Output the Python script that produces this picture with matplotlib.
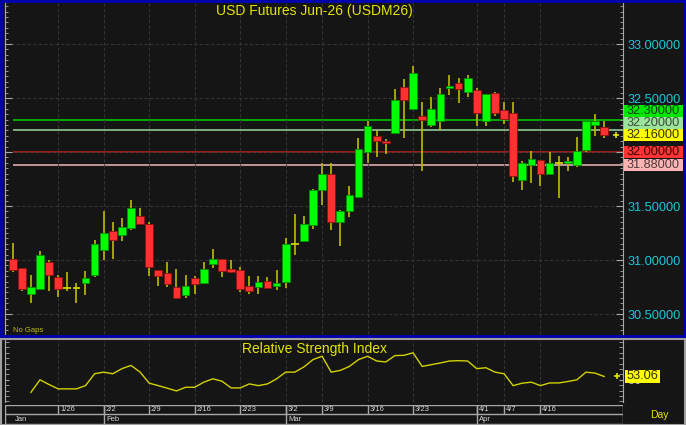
import matplotlib.pyplot as plt
from matplotlib.patches import Rectangle
from matplotlib.ticker import MultipleLocator

plt.rcParams['font.family'] = ['Liberation Sans', 'DejaVu Sans']

# daily OHLC, Jan 19 .. Apr 22
opens = [31.01, 30.93, 30.69, 30.73, 30.98, 30.84, 30.74, 30.74, 30.79, 30.86,
         31.09, 31.27, 31.23, 31.30, 31.41, 31.33, 30.91, 30.88, 30.75, 30.68,
         30.83, 30.79, 30.96, 31.01, 30.92, 30.91, 30.76, 30.75, 30.81, 30.76,
         30.80, 31.15, 31.18, 31.32, 31.65, 31.80, 31.35, 31.45, 31.58, 32.00,
         32.15, 32.10, 32.18, 32.60, 32.40, 32.33, 32.25, 32.29, 32.59, 32.64,
         32.56, 32.57, 32.29, 32.55, 32.39, 32.36, 31.74, 31.88, 31.93, 31.80,
         31.90, 31.90, 31.88, 32.02, 32.25, 32.23]
highs = [31.16, 30.93, 30.86, 31.08, 31.00, 30.86, 30.89, 30.79, 30.90, 31.19,
         31.45, 31.35, 31.39, 31.56, 31.48, 31.35, 30.91, 30.98, 30.92, 30.86,
         30.85, 30.98, 31.10, 31.01, 31.00, 30.94, 30.85, 30.85, 30.84, 30.91,
         31.20, 31.43, 31.41, 31.66, 31.90, 31.90, 31.46, 31.69, 32.13, 32.29,
         32.20, 32.12, 32.58, 32.68, 32.80, 32.46, 32.51, 32.59, 32.71, 32.69,
         32.71, 32.59, 32.54, 32.56, 32.46, 32.46, 31.92, 32.01, 31.93, 32.00,
         31.96, 31.95, 32.14, 32.29, 32.35, 32.29]
lows = [30.89, 30.71, 30.60, 30.73, 30.71, 30.66, 30.71, 30.60, 30.68, 30.84,
        31.00, 31.01, 31.18, 31.28, 31.33, 30.85, 30.76, 30.75, 30.64, 30.65,
        30.69, 30.78, 30.93, 30.84, 30.88, 30.70, 30.69, 30.69, 30.74, 30.72,
        30.74, 31.05, 31.18, 31.29, 31.51, 31.28, 31.13, 31.40, 31.58, 31.90,
        31.95, 31.98, 32.18, 32.13, 32.39, 31.82, 32.23, 32.20, 32.53, 32.45,
        32.51, 32.24, 32.24, 32.33, 32.26, 31.72, 31.65, 31.71, 31.69, 31.80,
        31.57, 31.82, 31.86, 32.00, 32.15, 32.13]
closes = [30.91, 30.73, 30.75, 31.05, 30.86, 30.73, 30.74, 30.74, 30.83, 31.15,
          31.25, 31.19, 31.31, 31.48, 31.33, 30.94, 30.85, 30.78, 30.65, 30.76,
          30.78, 30.92, 31.01, 30.90, 30.89, 30.73, 30.71, 30.80, 30.74, 30.79,
          31.15, 31.15, 31.33, 31.65, 31.80, 31.35, 31.45, 31.60, 32.03, 32.24,
          32.10, 32.08, 32.48, 32.48, 32.73, 32.30, 32.40, 32.54, 32.61, 32.58,
          32.69, 32.36, 32.54, 32.36, 32.31, 31.78, 31.90, 31.94, 31.80, 31.90,
          31.90, 31.91, 32.01, 32.29, 32.29, 32.16]

# RSI starts at the 3rd bar
rsi_first = 2
rsi = [38.4, 50.0, 45.6, 41.6, 41.6, 41.6, 44.6, 55.6, 57.1, 55.6,
       60.3, 63.3, 57.1, 46.9, 44.6, 42.2, 39.7, 43.1, 43.1, 47.8,
       50.9, 48.7, 42.5, 42.5, 46.2, 44.6, 46.2, 50.9, 57.1, 57.1,
       61.9, 68.7, 71.8, 57.1, 58.7, 62.4, 68.7, 71.8, 67.4, 66.5,
       72.4, 72.7, 75.0, 62.4, 64.0, 65.6, 67.4, 67.7, 67.4, 60.3,
       61.2, 57.1, 55.6, 44.6, 46.9, 47.8, 44.6, 47.1, 47.1, 48.4,
       50.0, 57.1, 56.2, 53.06]

levels = [32.30, 32.20, 32.16, 32.00, 31.88]
level_lines = ['#00d400', '#9cd89c', '#c81e1e', '#f0b8b8']
level_colors = ['#00e800', '#9ce49c', '#ffff00', '#ff3434', '#ffb4b4']
level_text = ['#0a3a0a', '#3c4a3c', '#303000', '#3a0000', '#4a3a3a']

day_idx = [5, 10, 15, 20, 25, 30, 34, 39, 44, 51, 54, 58]
day_labels = ['1/26', '2/2', '2/9', '2/16', '2/23', '3/2', '3/9', '3/16',
              '3/23', '4/1', '4/7', '4/16']
month_idx = [0, 10, 30, 51]
month_labels = ['Jan', 'Feb', 'Mar', 'Apr']

W, H = 686, 425
BG = '#151515'
GRID = '#343434'
AXC = '#a8a8a8'
YEL = '#e4e400'


def box(x0, y0, x1, y1):
    return [x0 / W, 1 - y1 / H, (x1 - x0) / W, (y1 - y0) / H]


fig = plt.figure(figsize=(6.86, 4.25), dpi=100, facecolor=BG)
xl = (-0.846, 67.07)

# ---- price panel
ax = fig.add_axes(box(5, 3, 623, 334), facecolor=BG)
ax.set_xlim(*xl)
ax.set_ylim(30.315, 33.38)
ax.set_xticks(day_idx)
ax.set_yticks([30.5, 31.0, 31.5, 32.0, 32.5, 33.0])
ax.yaxis.set_minor_locator(MultipleLocator(0.05))
ax.set_yticklabels(['%.5f' % v for v in ax.get_yticks()])
ax.grid(True, color=GRID, lw=0.8, ls=(0, (3, 2)))
ax.tick_params(axis='x', bottom=False, labelbottom=False)
ax.tick_params(axis='y', which='both', left=True, right=True, labelleft=False,
               labelright=True, direction='in', color=AXC, labelcolor='#18c8dc',
               labelsize=9.2, pad=3)
ax.tick_params(axis='y', which='major', length=5)
ax.tick_params(axis='y', which='minor', length=2.5)
for s in ['top', 'bottom']:
    ax.spines[s].set_visible(False)
for s in ['left', 'right']:
    ax.spines[s].set_color(AXC)

for i, (y, c) in enumerate(zip([32.30, 32.20, 32.00, 31.88], level_lines)):
    ax.hlines(y, 0, xl[1], color=c, lw=1.1, zorder=1.5)

bw = 0.85
for i in range(len(opens)):
    o, h, l, c = opens[i], highs[i], lows[i], closes[i]
    ax.vlines(i, l, h, color='#bcbc00', lw=1.2, zorder=2)
    if o == c:
        ax.hlines(o, i - bw / 2, i + bw / 2, color='#d0d000', lw=1.3, zorder=3)
        continue
    up = c > o
    lo = min(o, c)
    ht = max(abs(c - o), 0.02)
    ax.bar(i, ht, bottom=lo, width=bw, color='#00ff00' if up else '#ff3030',
           edgecolor='#009000' if up else '#901010', lw=0.6, zorder=3)

ax.plot(len(opens) + 0.3, closes[-1], marker='+', color=YEL, ms=5,
        mew=1.2, clip_on=False, zorder=5)

# stacked value boxes on the right axis
gap = 0.111
order = sorted(range(len(levels)), key=lambda k: levels[k])
pos = {}
prev = None
for k in order:
    y = levels[k]
    if prev is not None and y < prev + gap:
        y = prev + gap
    pos[k] = y
    prev = y
tr = ax.get_yaxis_transform()
for k in range(len(levels)):
    y = pos[k]
    ax.add_patch(Rectangle((1.0016, y - gap / 2), 0.0955, gap, transform=tr,
                           facecolor=level_colors[k], edgecolor='none',
                           clip_on=False, zorder=6))
    ax.text(1.0055, y, '%.5f' % levels[k], transform=tr, ha='left',
            va='center', fontsize=9.2, color=level_text[k], zorder=7,
            clip_on=False)

ax.text(0.5, 0.976, 'USD Futures Jun-26 (USDM26)', transform=ax.transAxes,
        ha='center', va='center', color=YEL, fontsize=10)
ax.text(0.013, 0.011, 'No Gaps', transform=ax.transAxes, ha='left',
        va='center', color='#c0c000', fontsize=5.5)

# ---- RSI panel
ax2 = fig.add_axes(box(5, 340, 623, 402), facecolor=BG)
ax2.set_xlim(*xl)
ax2.set_ylim(29.45, 86.85)
ax2.plot(range(rsi_first, rsi_first + len(rsi)), rsi, color='#d2d200', lw=1)
ax2.set_xticks(day_idx)
ax2.set_yticks([50])
ax2.set_yticklabels(['50'])
ax2.yaxis.set_minor_locator(MultipleLocator(5))
ax2.grid(True, axis='x', color=GRID, lw=0.8, ls=(0, (3, 2)))
ax2.tick_params(axis='x', bottom=False, labelbottom=False)
ax2.tick_params(axis='y', which='both', left=True, right=True, labelleft=False,
                labelright=True, direction='in', color=AXC, labelcolor='#b8b8b8',
                labelsize=9.2, pad=3, length=3)
for s in ['top', 'bottom']:
    ax2.spines[s].set_visible(False)
for s in ['left', 'right']:
    ax2.spines[s].set_color(AXC)
ax2.plot(len(opens) + 0.4, rsi[-1], marker='+', color=YEL, ms=5, mew=1.2,
         clip_on=False, zorder=5)
tr2 = ax2.get_yaxis_transform()
ax2.add_patch(Rectangle((1.0032, rsi[-1] - 5.6), 0.057, 11.2, transform=tr2,
                        facecolor='#ffff00', edgecolor='none', clip_on=False,
                        zorder=6))
ax2.text(1.0055, rsi[-1], '%.2f' % rsi[-1], transform=tr2, ha='left',
         va='center', fontsize=9.2, color='#303000', zorder=7, clip_on=False)
ax2.text(0.5, 0.855, 'Relative Strength Index', transform=ax2.transAxes,
         ha='center', va='center', color=YEL, fontsize=10)

# ---- date strip
ax3 = fig.add_axes(box(5, 404.5, 623, 424), facecolor=BG)
ax3.set_xlim(*xl)
ax3.set_ylim(0, 2)
ax3.axis('off')
ax3.axhline(1, color=AXC, lw=1)
ax3.axhline(2, color=AXC, lw=1)
ax3.axhline(0, color=AXC, lw=1)
ax3.axvline(xl[0], color=AXC, lw=1)
ax3.axvline(xl[1], color=AXC, lw=1)
for x, t in zip(day_idx, day_labels):
    ax3.vlines(x, 1, 2, color=AXC, lw=1)
    ax3.text(x + 0.2, 1.45, t, ha='left', va='center', fontsize=5.5,
             color='#d8d8d8')
for x, t in zip(month_idx, month_labels):
    if x > 0:
        ax3.vlines(x, 0, 2, color=AXC, lw=1)
    ax3.text(x + 0.25, 0.45, t, ha='left', va='center', fontsize=5.5,
             color='#d8d8d8')
fig.text(659 / W, 1 - 415 / H, 'Day', ha='center', va='center', color=YEL,
         fontsize=7.5)

# panel frames
fig.add_artist(Rectangle((1 / W, 1 - 336 / H), 684 / W, 335 / H,
                         transform=fig.transFigure, fill=False,
                         edgecolor='#0000b4', lw=2))
fig.add_artist(Rectangle((1 / W, 1 - 424.5 / H), 684 / W, 86 / H,
                         transform=fig.transFigure, fill=False,
                         edgecolor='#a0a0a0', lw=1.5))

fig.savefig('out.png', dpi=100, facecolor=BG)
